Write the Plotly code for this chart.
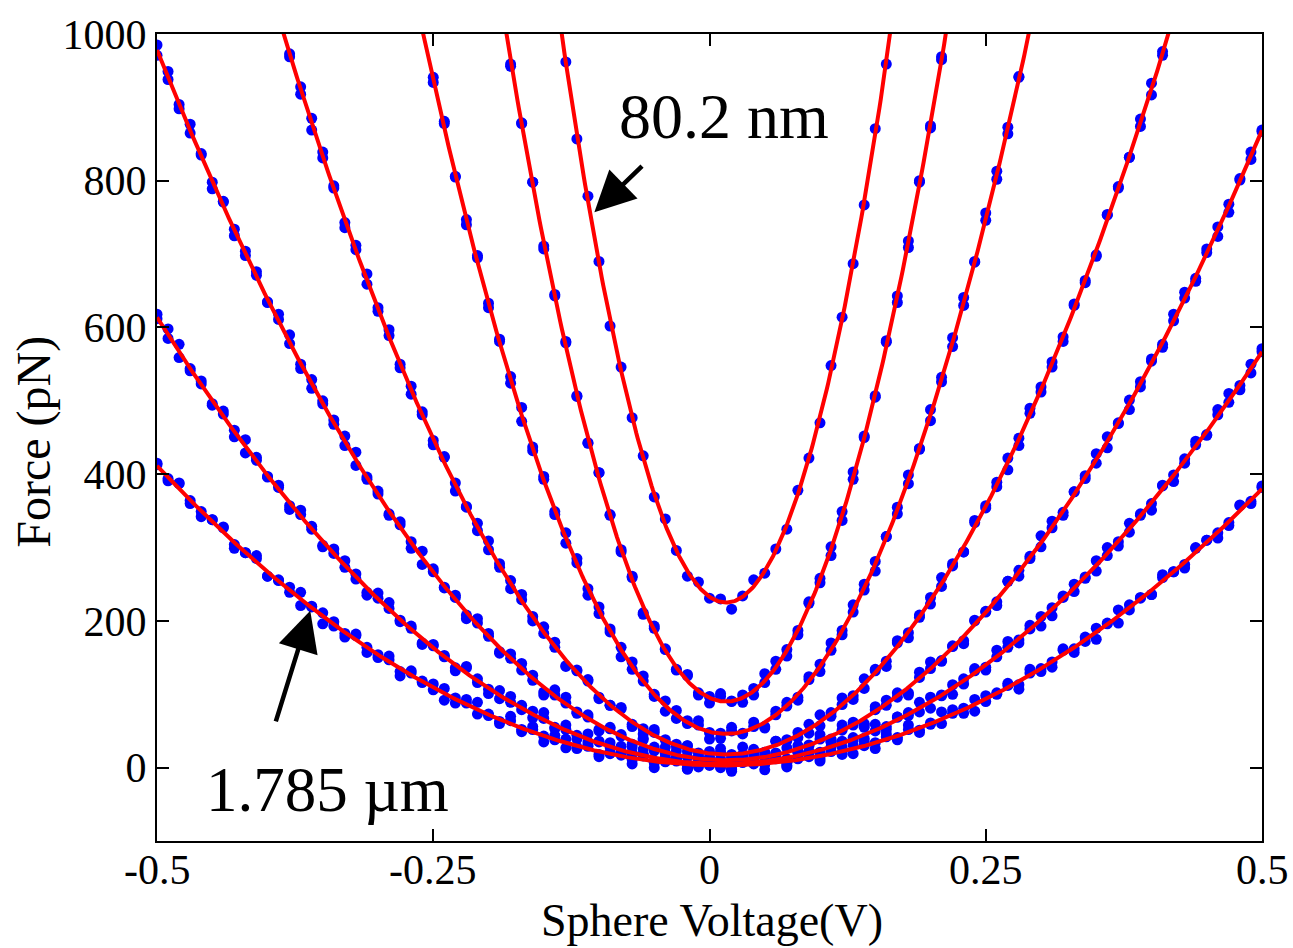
import numpy as np
import plotly.graph_objects as go

# Sphere voltage sweep (V)
VOLTAGE = [-0.50, -0.49, -0.48, -0.47, -0.46, -0.45, -0.44, -0.43, -0.42, -0.41,
           -0.40, -0.39, -0.38, -0.37, -0.36, -0.35, -0.34, -0.33, -0.32, -0.31,
           -0.30, -0.29, -0.28, -0.27, -0.26, -0.25, -0.24, -0.23, -0.22, -0.21,
           -0.20, -0.19, -0.18, -0.17, -0.16, -0.15, -0.14, -0.13, -0.12, -0.11,
           -0.10, -0.09, -0.08, -0.07, -0.06, -0.05, -0.04, -0.03, -0.02, -0.01,
           0.00, 0.01, 0.02, 0.03, 0.04, 0.05, 0.06, 0.07, 0.08, 0.09,
           0.10, 0.11, 0.12, 0.13, 0.14, 0.15, 0.16, 0.17, 0.18, 0.19,
           0.20, 0.21, 0.22, 0.23, 0.24, 0.25, 0.26, 0.27, 0.28, 0.29,
           0.30, 0.31, 0.32, 0.33, 0.34, 0.35, 0.36, 0.37, 0.38, 0.39,
           0.40, 0.41, 0.42, 0.43, 0.44, 0.45, 0.46, 0.47, 0.48, 0.49,
           0.50]

# Measured force (pN), 1.785 um separation (two sweeps), starting at VOLTAGE[0]
F1_A = [413, 391, 387, 364, 342, 338, 327, 304, 293, 289,
        261, 255, 246, 221, 220, 211, 193, 178, 182, 164,
        150, 147, 125, 132, 118, 106, 108, 88, 88, 89,
        71, 60, 64, 52, 56, 35, 38, 39, 26, 29,
        15, 28, 17, 11, 17, 0, 9, 10, -1, 4,
        10, 0, -3, 12, 5, 5, 12, 1, 14, 15,
        12, 28, 20, 19, 36, 34, 42, 38, 58, 51,
        61, 60, 79, 81, 77, 98, 100, 112, 113, 134,
        135, 137, 160, 162, 178, 175, 196, 215, 215, 232,
        236, 259, 267, 272, 300, 310, 320, 330, 358, 363,
        384]
F1_B = [415, 394, 388, 360, 349, 338, 328, 299, 293, 285,
        261, 256, 239, 239, 219, 196, 199, 183, 180, 157,
        154, 152, 131, 129, 116, 114, 92, 95, 93, 73,
        73, 63, 70, 49, 52, 43, 44, 27, 28, 35,
        18, 21, 19, 5, 16, 8, 8, 14, -2, 1,
        10, 3, -2, 8, 6, -3, 13, 7, 12, 22,
        9, 22, 18, 31, 30, 26, 46, 41, 52, 48,
        59, 76, 74, 74, 93, 90, 102, 115, 107, 129,
        131, 144, 162, 157, 172, 190, 197, 197, 222, 231,
        236, 263, 267, 277, 299, 310, 313, 334, 357, 360,
        382]
F2_A = [612, 598, 559, 544, 527, 496, 482, 451, 447, 419,
        396, 385, 352, 345, 329, 303, 292, 282, 257, 239,
        238, 217, 201, 193, 168, 166, 153, 136, 138, 116,
        101, 105, 89, 85, 68, 75, 55, 52, 39, 46,
        35, 19, 29, 19, 19, 9, 19, 9, 0, 12,
        3, 9, -5, 7, 16, 6, 13, 7, 21, 20,
        16, 35, 36, 38, 40, 59, 56, 69, 75, 76,
        96, 98, 100, 121, 135, 137, 151, 172, 170, 189,
        206, 207, 232, 250, 258, 268, 300, 308, 321, 346,
        351, 385, 399, 415, 445, 453, 481, 510, 521, 538,
        571]
F2_B = [618, 585, 577, 541, 523, 494, 486, 460, 429, 423,
        397, 382, 357, 351, 325, 301, 298, 273, 264, 235,
        231, 225, 199, 190, 170, 168, 151, 132, 136, 121,
        107, 94, 97, 79, 77, 67, 53, 58, 44, 31,
        36, 34, 21, 20, 25, 7, 12, 13, -2, 8,
        10, 3, -2, 14, 7, 5, 14, 3, 22, 21,
        21, 35, 28, 41, 55, 50, 52, 69, 71, 89,
        81, 99, 113, 114, 132, 133, 160, 164, 174, 194,
        193, 218, 234, 240, 260, 282, 289, 302, 333, 344,
        360, 384, 390, 421, 440, 454, 488, 498, 515, 550,
        567]
F3_A = [971, 949, 904, 865, 837, 789, 772, 734, 698, 676,
        634, 611, 590, 550, 517, 500, 468, 452, 412, 396,
        377, 346, 331, 299, 295, 267, 245, 235, 203, 197,
        183, 158, 149, 142, 119, 103, 106, 88, 76, 72,
        50, 53, 45, 32, 40, 23, 14, 23, 14, 16,
        6, 20, 7, 12, 6, 21, 19, 12, 30, 30,
        39, 39, 58, 58, 60, 83, 85, 102, 99, 123,
        144, 146, 165, 173, 200, 212, 221, 254, 269, 285,
        301, 336, 348, 376, 398, 415, 451, 469, 488, 526,
        557, 577, 609, 648, 663, 702, 737, 757, 801, 839,
        867]
F3_B = [985, 938, 898, 877, 835, 798, 771, 725, 704, 671,
        635, 618, 578, 544, 529, 496, 474, 439, 430, 393,
        373, 344, 335, 308, 277, 271, 246, 232, 208, 203,
        179, 156, 155, 133, 126, 99, 99, 96, 74, 69,
        52, 55, 43, 28, 38, 28, 20, 12, 22, 10,
        15, 12, 5, 18, 11, 6, 20, 27, 22, 31,
        45, 37, 51, 62, 58, 79, 92, 96, 102, 130,
        135, 145, 166, 169, 201, 213, 226, 254, 261, 288,
        316, 327, 344, 376, 394, 428, 436, 470, 501, 519,
        554, 573, 618, 640, 667, 707, 724, 768, 803, 829,
        869]
# closer separations: first point at VOLTAGE[start]
F4_START = 12
F4_A = [973, 918, 885, 831, 793, 736, 706, 673, 622, 589,
        545, 520, 481, 440, 423, 388, 355, 323, 309, 273,
        255, 229, 200, 192, 164, 139, 133, 120, 96, 85,
        82, 56, 53, 48, 28, 32, 30, 20, 12, 26,
        18, 15, 25, 15, 36, 38, 41, 59, 57, 75,
        95, 98, 108, 134, 145, 173, 177, 205, 232, 247,
        278, 294, 337, 357, 383, 422, 439, 483, 519, 546,
        587, 632, 661, 699, 754, 790, 832, 884, 917, 976]
F4_B = [969, 928, 869, 839, 790, 743, 712, 659, 627, 597,
        550, 509, 485, 446, 424, 377, 356, 333, 297, 278,
        244, 236, 206, 183, 171, 138, 132, 118, 94, 85,
        80, 59, 46, 52, 38, 29, 30, 14, 22, 20,
        14, 28, 20, 18, 36, 37, 48, 47, 72, 70,
        86, 93, 121, 132, 138, 170, 184, 208, 223, 259,
        275, 294, 334, 354, 389, 406, 449, 490, 512, 553,
        581, 630, 664, 697, 753, 792, 832, 874, 933, 971]
F5_START = 25
F5_A = [941, 878, 805, 747, 698, 627, 581, 533, 472, 437,
        397, 349, 306, 285, 244, 210, 189, 151, 144, 118,
        97, 91, 67, 64, 64, 48, 40, 50, 47, 62,
        54, 72, 89, 96, 120, 131, 170, 187, 212, 250,
        268, 315, 355, 387, 435, 488, 526, 574, 641, 690,
        746, 813, 864, 941]
F5_B = [934, 881, 806, 740, 695, 633, 584, 524, 491, 432,
        393, 345, 320, 279, 235, 219, 185, 164, 134, 125,
        100, 77, 78, 60, 58, 39, 47, 55, 46, 56,
        56, 77, 84, 92, 124, 141, 160, 181, 222, 242,
        281, 315, 346, 399, 434, 473, 532, 586, 630, 689,
        756, 802, 873, 942]
F6_START = 32
F6_A = [956, 879, 798, 711, 643, 581, 506, 443, 402, 345,
        297, 261, 211, 190, 162, 133, 127, 102, 88, 97,
        91, 99, 99, 128, 134, 161, 181, 226, 258, 289,
        349, 393, 452, 505, 582, 643, 709, 800, 875, 969]
F6_B = [959, 878, 798, 707, 645, 579, 507, 442, 402, 344,
        294, 259, 209, 193, 161, 134, 125, 99, 97, 101,
        90, 89, 108, 116, 145, 152, 187, 224, 252, 301,
        337, 403, 450, 507, 580, 634, 718, 798, 872, 965]
F7_START = 37  # 80.2 nm
F7_A = [962, 857, 779, 690, 602, 546, 477, 425, 369, 339,
        296, 261, 253, 231, 230, 216, 234, 256, 265, 298,
        325, 378, 422, 470, 548, 614, 687, 767, 871, 959]

# Parabolic fits F = F0 + A (V - V0)^2, one per separation
FIT_F0 = [3, 5, 10, 18, 46, 90, 225]
FIT_A = [1570, 2340, 3650, 6120, 12700, 23000, 35000]
FIT_V0 = [0.010, 0.010, 0.015, 0.015, 0.015, 0.015, 0.015]

X_TICKS = [-0.5, -0.25, 0, 0.25, 0.5]
X_TICK_TEXT = ["-0.5", "-0.25", "0", "0.25", "0.5"]
Y_TICKS = [0, 200, 400, 600, 800, 1000]

SERIES = [(0, F1_A), (0, F1_B), (0, F2_A), (0, F2_B), (0, F3_A), (0, F3_B),
          (F4_START, F4_A), (F4_START, F4_B), (F5_START, F5_A), (F5_START, F5_B),
          (F6_START, F6_A), (F6_START, F6_B), (F7_START, F7_A)]

FONT = "Liberation Serif"

fig = go.Figure()
for start, forces in SERIES:
    fig.add_trace(go.Scatter(
        x=VOLTAGE[start:start + len(forces)], y=forces, mode="markers",
        marker=dict(color="#0000ff", size=11, line=dict(width=0)),
        hoverinfo="skip", showlegend=False))

v_fine = np.linspace(-0.5, 0.5, 801)
for f0, a, v0 in zip(FIT_F0, FIT_A, FIT_V0):
    fig.add_trace(go.Scatter(
        x=v_fine, y=f0 + a * (v_fine - v0) ** 2, mode="lines",
        line=dict(color="#ff0000", width=4),
        hoverinfo="skip", showlegend=False))

axis_common = dict(
    ticks="inside", ticklen=12, tickwidth=1.5, tickcolor="black",
    showline=True, linewidth=2, linecolor="black", mirror="ticks",
    showgrid=False, zeroline=False,
    tickfont=dict(family=FONT, size=42, color="black"),
)

fig.update_layout(
    width=1293, height=948,
    margin=dict(l=157, r=31, t=31, b=107),
    plot_bgcolor="white", paper_bgcolor="white",
    font=dict(family=FONT, color="black"),
    showlegend=False,
    xaxis=dict(range=[-0.5, 0.5], tickvals=X_TICKS, showticklabels=False,
               **axis_common),
    yaxis=dict(range=[-100, 1000], tickvals=Y_TICKS,
               ticklabelstandoff=0, **axis_common),
)

annotations = []
# x tick labels, placed on the x axis scale
for val, txt in zip(X_TICKS, X_TICK_TEXT):
    annotations.append(dict(
        text=txt, xref="x", yref="paper", x=val, y=-0.0358,
        xanchor="center", yanchor="middle", showarrow=False,
        font=dict(family=FONT, size=42, color="black")))

annotations += [
    dict(text="Sphere Voltage(V)", xref="paper", yref="paper", x=0.5025, y=-0.098,
         xanchor="center", yanchor="middle", showarrow=False,
         font=dict(family=FONT, size=46, color="black")),
    dict(text="Force (pN)", xref="paper", yref="paper", x=-0.112, y=0.495,
         xanchor="center", yanchor="middle", showarrow=False, textangle=-90,
         font=dict(family=FONT, size=48, color="black")),
    dict(text="80.2 nm", xref="x", yref="y", x=0.0135, y=888,
         xanchor="center", yanchor="middle", showarrow=False,
         font=dict(family=FONT, size=64, color="black")),
    dict(text="1.785 µm", xref="x", yref="y", x=-0.346, y=-30,
         xanchor="center", yanchor="middle", showarrow=False,
         font=dict(family=FONT, size=63, color="black")),
    dict(text="", xref="x", yref="y", x=-0.1042, y=757, axref="x", ayref="y",
         ax=-0.0597, ay=822, showarrow=True, arrowhead=2, arrowsize=1.8,
         arrowwidth=4.5, arrowcolor="black", standoff=0),
    dict(text="", xref="x", yref="y", x=-0.3613, y=214, axref="x", ayref="y",
         ax=-0.3929, ay=61, showarrow=True, arrowhead=2, arrowsize=1.8,
         arrowwidth=4.5, arrowcolor="black", standoff=0),
]
fig.update_layout(annotations=annotations)

fig.write_html("out.html")
